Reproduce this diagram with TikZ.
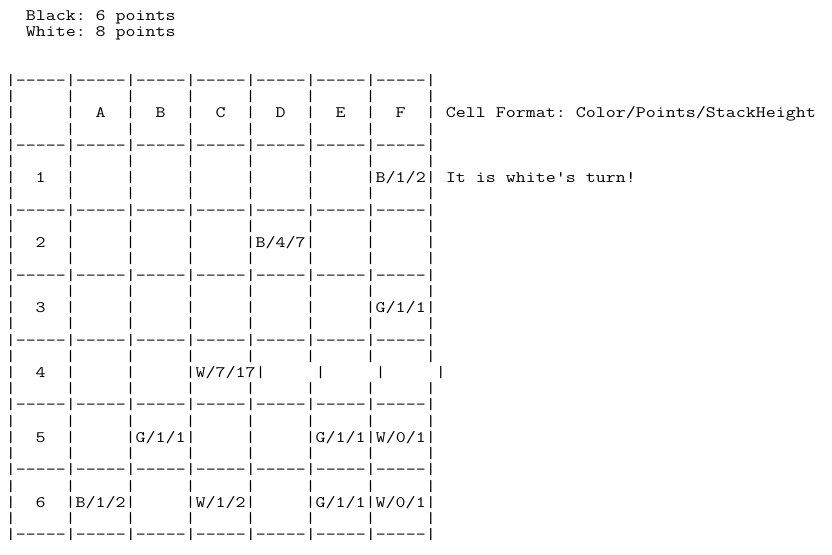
\documentclass[tikz,border=0pt]{standalone}
\usepackage{graphicx}
\newlength\cw
\newcommand\confont{\ttfamily\fontsize{12}{12}\selectfont}
\newcommand\dsh{-{}-{}-{}-{}-}
\newcommand\bordline{|\dsh|\dsh|\dsh|\dsh|\dsh|\dsh|\dsh|}
\newcommand\pipeline{|~~~~~|~~~~~|~~~~~|~~~~~|~~~~~|~~~~~|~~~~~|}
\newcommand\conline[1]{\scalebox{\xst}[1]{#1}}
% one character cell = 10 x 16.23
\AtBeginDocument{%
  \settowidth{\cw}{\confont M}%
  \pgfmathsetmacro\xst{7.5/\cw}%
  \global\let\xst\xst}

\begin{document}
\begin{tikzpicture}[x=0.75pt, y=-0.75pt,
    con/.style={inner sep=0pt, anchor=base west, font=\confont}]
  \fill[white] (0,0) rectangle (832,554);
  \useasboundingbox (0,0) rectangle (832,554);
  % Score
  \node[con] (black) at (5.5,20.4) {\conline{~~Black:~6~points}};
  \node[con] (white) at (5.5,36.6) {\conline{~~White:~8~points}};
  % Grid lines
  \foreach \i in {4,8,...,32}
    \node[con] (bord\i) at (5.5,{20.4+16.23*\i}) {\conline{\bordline}};
  \foreach \i in {5,7,...,31}
    \node[con] (pipe\i) at (5.5,{20.4+16.23*\i}) {\conline{\pipeline}};
  % Header
  \node[con] (head) at (5.5,117.78)
    {\conline{|~~~~~|~~A~~|~~B~~|~~C~~|~~D~~|~~E~~|~~F~~|~Cell~Format:~Color/Points/StackHeight}};
  % Rows
  \node[con] (row1) at (5.5,182.70)
    {\conline{|~~1~~|~~~~~|~~~~~|~~~~~|~~~~~|~~~~~|B/1/2|~It~is~white\textquotesingle s~turn!}};
  \node[con] (row2) at (5.5,247.62)
    {\conline{|~~2~~|~~~~~|~~~~~|~~~~~|B/4/7|~~~~~|~~~~~|}};
  \node[con] (row3) at (5.5,312.54)
    {\conline{|~~3~~|~~~~~|~~~~~|~~~~~|~~~~~|~~~~~|G/1/1|}};
  \node[con] (row4) at (5.5,377.46)
    {\conline{|~~4~~|~~~~~|~~~~~|W/7/17|~~~~~|~~~~~|~~~~~|}};
  \node[con] (row5) at (5.5,442.38)
    {\conline{|~~5~~|~~~~~|G/1/1|~~~~~|~~~~~|G/1/1|W/0/1|}};
  \node[con] (row6) at (5.5,507.30)
    {\conline{|~~6~~|B/1/2|~~~~~|W/1/2|~~~~~|G/1/1|W/0/1|}};
\end{tikzpicture}
\end{document}
